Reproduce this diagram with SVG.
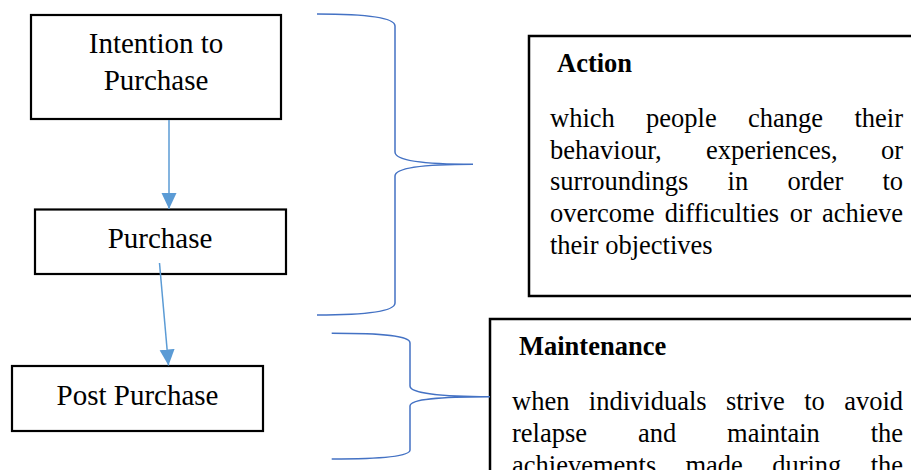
<svg xmlns="http://www.w3.org/2000/svg" width="911" height="470" viewBox="0 0 911 470">
  <style>
    .box { fill: #ffffff; stroke: #000000; stroke-width: 2.2; }
    .panel { fill: #ffffff; stroke: #000000; stroke-width: 2.5; }
    .label { font-family: "Liberation Serif", "Times New Roman", serif; font-size: 29px; fill: #000000; text-anchor: middle; }
    .title { font-family: "Liberation Serif", "Times New Roman", serif; font-size: 26.5px; font-weight: bold; fill: #000000; }
    .body { font-family: "Liberation Serif", "Times New Roman", serif; font-size: 26.5px; fill: #000000; }
    .end { text-anchor: end; }
    .flow { fill: none; stroke: #5B9BD5; stroke-width: 1.5; }
    .brace { fill: none; stroke: #4472C4; stroke-width: 1.5; }
  </style>
  <defs>
    <marker id="arrow" markerUnits="userSpaceOnUse" markerWidth="16" markerHeight="16" viewBox="0 0 16 16" refX="16" refY="8" orient="auto">
      <path d="M0,0.5 L16,8 L0,15.5 Z" fill="#5B9BD5"/>
    </marker>
  </defs>

  <!-- stage boxes -->
  <g id="node-intention">
    <rect class="box" x="31" y="15" width="250" height="104"/>
    <text class="label" x="156" y="53">Intention to</text>
    <text class="label" x="156" y="90">Purchase</text>
  </g>
  <g id="node-purchase">
    <rect class="box" x="35" y="209.5" width="251" height="64.5"/>
    <text class="label" x="160" y="248">Purchase</text>
  </g>
  <g id="node-post">
    <rect class="box" x="12" y="366" width="251" height="65"/>
    <text class="label" x="137.5" y="405">Post Purchase</text>
  </g>

  <!-- description panels -->
  <g id="node-action">
    <rect class="panel" x="529" y="36" width="400" height="260"/>
    <text class="title" x="557" y="72">Action</text>
    <text class="body" y="127"><tspan x="550">which</tspan><tspan x="646.1">people</tspan><tspan x="748">change</tspan><tspan x="903" class="end" text-anchor="end">their</tspan></text>
    <text class="body" y="158.7"><tspan x="550">behaviour,</tspan><tspan x="705.9">experiences,</tspan><tspan x="903" text-anchor="end">or</tspan></text>
    <text class="body" y="190.4"><tspan x="550">surroundings</tspan><tspan x="727.6">in</tspan><tspan x="787.4">order</tspan><tspan x="903" text-anchor="end">to</tspan></text>
    <text class="body" y="222.1"><tspan x="550">overcome</tspan><tspan x="664.7">difficulties</tspan><tspan x="789.7">or</tspan><tspan x="903" text-anchor="end">achieve</tspan></text>
    <text class="body" x="550" y="253.8">their objectives</text>
  </g>
  <g id="node-maintenance">
    <rect class="panel" x="490" y="319" width="440" height="170"/>
    <text class="title" x="519" y="355">Maintenance</text>
    <text class="body" y="409.5"><tspan x="512">when</tspan><tspan x="588.8">individuals</tspan><tspan x="725.9">strive</tspan><tspan x="804.2">to</tspan><tspan x="903" text-anchor="end">avoid</tspan></text>
    <text class="body" y="441.7"><tspan x="512">relapse</tspan><tspan x="637.9">and</tspan><tspan x="727.1">maintain</tspan><tspan x="903" text-anchor="end">the</tspan></text>
    <text class="body" y="474"><tspan x="512">achievements</tspan><tspan x="685.5">made</tspan><tspan x="772.2">during</tspan><tspan x="903" text-anchor="end">the</tspan></text>
  </g>

  <!-- connectors: flow arrows and grouping braces -->
  <g id="connectors">
    <line class="flow" x1="169" y1="120" x2="169" y2="209" marker-end="url(#arrow)"/>
    <line class="flow" x1="159.5" y1="263" x2="168.5" y2="365.5" marker-end="url(#arrow)"/>
    <path class="brace" d="M317,14 C370,14 395,18 395,26 L395,152 C395,160 420,164.3 473,164.3 C420,164.3 395,168 395,176 L395,303 C395,311 370,315 317,315"/>
    <path class="brace" d="M331.7,333.3 C385,333.3 410,336 410,343 L410,386 C410,393 440,396.7 490,396.7 C440,396.7 410,399 410,406 L410,450 C410,456 385,459 331.7,459"/>
  </g>
</svg>
